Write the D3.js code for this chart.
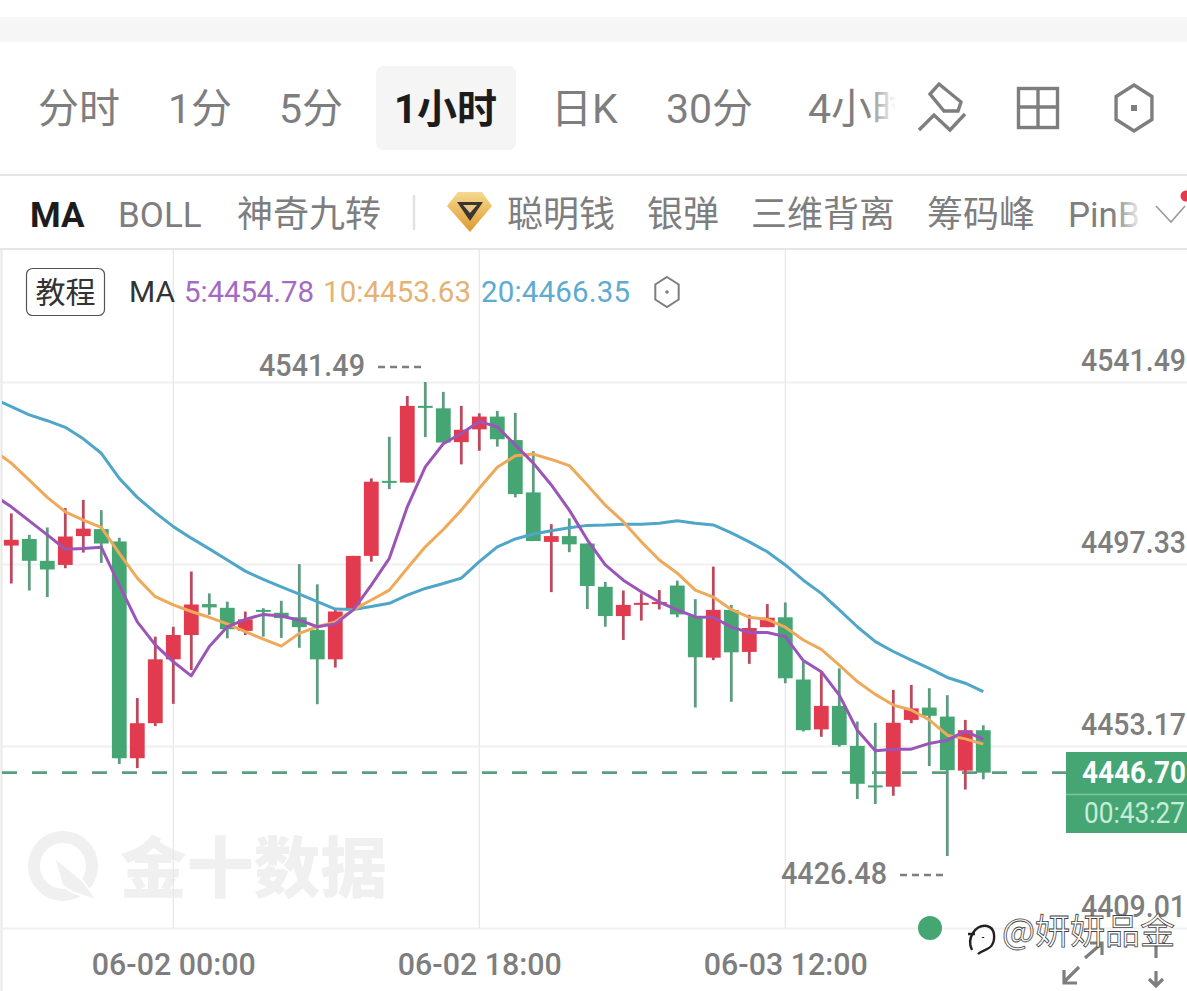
<!DOCTYPE html>
<html><head><meta charset="utf-8">
<style>html,body{margin:0;padding:0;background:#fff;overflow:hidden}svg{display:block}</style>
<script src="https://cdn.jsdelivr.net/npm/d3@7/dist/d3.min.js"></script></head><body>
<svg id="c" width="1187" height="991" font-family="'Noto Sans CJK SC','Noto Sans',sans-serif"></svg>
<script>
const open=[4501.8,4503.4,4498.1,4497.1,4504.1,4505.8,4502.8,4450.2,4458.7,4474.2,
4480.1,4487.6,4486.7,4481.1,4486.2,4485.5,4484.4,4481.3,4474.2,4486.2,
4499.3,4517.5,4517.1,4535.7,4535.1,4526.9,4530.0,4533.1,4527.4,4514.7,
4502.7,4504.1,4502.3,4491.8,4484.7,4487.5,4487.6,4492.1,4484.7,4474.6,
4486.2,4476.0,4482.0,4484.4,4469.3,4457.2,4462.9,4453.2,4443.6,4443.3,
4459.5,4462.5,4460.3,4447.2,4457.0];
const close=[4503.2,4498.1,4496.0,4504.0,4505.9,4502.3,4450.2,4458.7,4474.2,4480.1,
4487.5,4486.8,4481.5,4483.9,4485.9,4484.2,4482.0,4474.2,4485.8,4499.3,
4517.3,4517.1,4535.7,4535.4,4526.8,4529.9,4533.1,4527.6,4514.3,4502.9,
4504.1,4502.1,4492.0,4484.7,4487.4,4487.9,4488.1,4485.1,4474.7,4486.2,
4475.9,4481.8,4484.3,4469.6,4457.0,4462.9,4453.4,4444.0,4443.2,4458.8,
4462.3,4460.5,4447.3,4457.0,4446.70];
const high=[4509.6,4504.4,4506.2,4510.9,4512.9,4510.4,4503.7,4464.8,4479.7,4482.1,
4495.5,4490.2,4488.2,4485.8,4486.6,4488.4,4497.3,4492.4,4486.2,4499.3,
4518.1,4528.2,4538.1,4541.49,4539.1,4535.7,4533.9,4534.5,4534.0,4524.7,
4507.0,4508.4,4502.3,4493.0,4490.9,4490.2,4491.0,4493.3,4488.8,4496.7,
4487.4,4485.0,4487.6,4488.0,4473.6,4471.2,4472.0,4459.1,4458.8,4466.8,
4468.0,4467.2,4465.5,4459.5,4458.2];
const low=[4492.6,4490.9,4489.3,4496.3,4500.1,4497.6,4448.8,4447.8,4458.0,4463.4,
4471.6,4485.0,4479.3,4480.1,4479.7,4479.4,4477.0,4463.3,4472.2,4486.2,
4497.9,4515.5,4517.1,4528.1,4526.8,4521.5,4524.8,4525.8,4513.5,4502.9,
4490.5,4500.2,4486.4,4482.1,4478.9,4483.6,4486.3,4484.4,4462.5,4474.0,
4463.9,4473.1,4482.0,4468.4,4456.7,4455.4,4453.0,4440.3,4439.1,4441.1,
4458.7,4448.3,4426.48,4442.6,4445.1];
// moving averages begin one bar before the first visible candle
const ma5=[4514.1,4511.2,4507.8,4504.4,4500.9,4501.1,4501.4,4492.2,4483.3,4477.7,4473.6,
4470.2,4477.3,4482.1,4483.9,4485.1,4484.7,4483.7,4482.1,4482.8,4486.2,
4492.2,4498.7,4511.2,4520.9,4526.5,4529.0,4531.9,4530.6,4526.2,4521.8,
4516.5,4510.4,4503.2,4497.1,4493.4,4490.6,4488.1,4486.2,4484.5,4484.4,
4482.0,4480.7,4480.7,4479.7,4473.9,4471.2,4465.5,4457.0,4452.0,4452.4,
4452.4,4453.8,4454.6,4456.8,4454.78];
const ma10=[4525.0,4521.8,4517.7,4513.5,4510.0,4508.0,4506.2,4499.9,4493.9,4489.4,4487.4,
4485.8,4484.4,4482.8,4480.9,4479.1,4477.4,4480.5,4482.1,4483.3,4486.2,
4488.6,4491.0,4496.3,4501.5,4505.7,4510.4,4515.7,4520.8,4523.6,4524.0,
4522.7,4521.2,4516.5,4511.6,4507.6,4502.7,4498.3,4495.1,4491.0,4489.3,
4486.3,4484.4,4483.9,4482.0,4478.9,4476.6,4472.8,4468.8,4465.7,4463.1,
4461.9,4459.5,4455.8,4454.9,4453.63];
const ma20=[4537.5,4535.5,4533.5,4532.1,4530.5,4527.7,4524.2,4518.1,4513.5,4509.8,4506.4,
4503.6,4501.0,4498.3,4495.6,4493.6,4491.8,4490.0,4488.2,4486.4,4486.3,
4487.0,4487.8,4489.8,4491.4,4492.6,4493.9,4497.9,4501.5,4503.4,4504.6,
4505.4,4506.1,4506.7,4506.8,4507.0,4507.0,4507.2,4507.8,4507.2,4506.8,
4504.9,4502.7,4500.3,4497.1,4493.4,4490.2,4486.2,4482.1,4478.5,4476.1,
4474.0,4472.0,4469.8,4468.4,4466.35];
const priceTicks=[4541.49,4497.33,4453.17,4409.01];
const timeTickIndex=[9,26,43];
const timeTickLabels=["06-02 00:00","06-02 18:00","06-03 12:00"];
const tabs=["分时","1分","5分","1小时","日K","30分","4小时"];
const indicators=["MA","BOLL","神奇九转","聪明钱","银弹","三维背离","筹码峰","PinB"];
const maLegend=["5:4454.78","10:4453.63","20:4466.35"];
const lastPrice=4446.70, countdown="00:43:27", maxLabel=4541.49, minLabel=4426.48;

const UP="#e23a4e",DOWN="#45a673",UPW="#bb4a5f",DOWNW="#5e9c80",GREY="#7e7e7e";
const NUM="Roboto";
const svg=d3.select("#c");
const defs=svg.append("defs");
const fade=defs.append("linearGradient").attr("id","fade");
fade.append("stop").attr("offset",0).attr("stop-color","#fff").attr("stop-opacity",0);
fade.append("stop").attr("offset",1).attr("stop-color","#fff").attr("stop-opacity",1);
const gold=defs.append("linearGradient").attr("id","gold").attr("x1",0).attr("x2",0).attr("y1",0).attr("y2",1);
gold.append("stop").attr("offset",0).attr("stop-color","#f5d98f");
gold.append("stop").attr("offset",1).attr("stop-color","#dc9a2e");
defs.append("clipPath").attr("id","plot").append("rect").attr("x",2).attr("y",249).attr("width",1064).attr("height",680);

const x=d3.scaleLinear().domain([0,54]).range([11.3,983.3]);
const y=d3.scaleLinear().domain([4541.49,4409.01]).range([382,928]);

// page chrome
svg.append("rect").attr("x",0).attr("y",17).attr("width",1187).attr("height",25).attr("fill","#f6f6f6");
svg.append("rect").attr("x",376).attr("y",66).attr("width",140).attr("height",84).attr("rx",7).attr("fill","#f5f5f5");
[175,249].forEach(v=>svg.append("line").attr("x1",0).attr("x2",1187).attr("y1",v).attr("y2",v).attr("stroke","#e6e6e6").attr("stroke-width",2));
svg.append("line").attr("x1",1.5).attr("x2",1.5).attr("y1",249).attr("y2",991).attr("stroke","#e8e8e8").attr("stroke-width",2);

const tabX=[38,168,279,394,551,666,808];
svg.selectAll(".tab").data(tabs).join("text").attr("class","tab")
 .attr("x",(d,i)=>tabX[i]).attr("y",123).attr("font-size",d=>d==="1小时"?40:41)
 .attr("font-family",(d,i)=>i===0?null:"Roboto,'Noto Sans CJK SC'")
 .attr("font-weight",d=>d==="1小时"?700:400).attr("fill",d=>d==="1小时"?"#1c1c1c":GREY).text(d=>d);
svg.append("rect").attr("x",866).attr("y",80).attr("width",30).attr("height",56).attr("fill","url(#fade)");
svg.append("rect").attr("x",896).attr("y",80).attr("width",20).attr("height",56).attr("fill","#fff");

const indX=[30,118,237,507,647,751,927,1068];
svg.selectAll(".ind").data(indicators).join("text").attr("class","ind")
 .attr("x",(d,i)=>indX[i]).attr("y",227).attr("font-size",(d,i)=>i<2||i===7?35:36)
 .attr("font-family",(d,i)=>i<2||i===7?"Roboto":null)
 .attr("font-weight",d=>d==="MA"?700:400).attr("fill",d=>d==="MA"?"#1c1c1c":GREY).text(d=>d);
svg.append("rect").attr("x",1112).attr("y",190).attr("width",32).attr("height",50).attr("fill","url(#fade)");
svg.append("line").attr("x1",414).attr("x2",414).attr("y1",195).attr("y2",230).attr("stroke","#e2e2e2").attr("stroke-width",2.5);
svg.append("path").attr("d","M458 192H482L492 206L470 232L447 206Z").attr("fill","url(#gold)");
svg.append("path").attr("d","M457 202H483L470 221Z").attr("fill","#3a3530");
svg.append("path").attr("d","M463 205H477L470 213Z").attr("fill","#e8c887");
svg.append("path").attr("d","M1156 206L1171 222L1185 206").attr("fill","none").attr("stroke","#999").attr("stroke-width",1.6);
svg.append("circle").attr("cx",1186).attr("cy",196).attr("r",5.5).attr("fill",UP);

// toolbar icons
const ic=svg.append("g").attr("fill","none").attr("stroke",GREY).attr("stroke-width",3.4);
ic.append("path").attr("d","M939 84L961 102L958 111L944 111L930 94Z");
ic.append("path").attr("d","M919 130L934 115L950 130L965 114");
ic.append("rect").attr("x",1018.5).attr("y",88.5).attr("width",39).attr("height",39);
ic.append("path").attr("d","M1038 88V128M1018 107H1058");
const hex=(cx,cy,r)=>{const p=d3.range(6).map(k=>{const a=Math.PI/3*k-Math.PI/2;return [cx+r*0.9*Math.cos(a),cy+r*Math.sin(a)];});return "M"+p.join("L")+"Z";};
ic.append("path").attr("d",hex(1134,108,23));
svg.append("rect").attr("x",1131).attr("y",105).attr("width",6).attr("height",6).attr("fill",GREY);
svg.append("path").attr("d",hex(667,292,15)).attr("fill","none").attr("stroke",GREY).attr("stroke-width",2);
svg.append("circle").attr("cx",667).attr("cy",292).attr("r",1.8).attr("fill",GREY);

// watermark
svg.append("text").attr("x",120).attr("y",892).attr("font-size",66).attr("font-weight",900).attr("fill","#f0f0f0")
 .attr("textLength",267).attr("lengthAdjust","spacingAndGlyphs").text("金十数据");
svg.append("circle").attr("cx",63).attr("cy",866).attr("r",29).attr("fill","none").attr("stroke","#f0f0f0").attr("stroke-width",12);
svg.append("path").attr("d","M54 857L82 880L98 901L72 892L62 885Z").attr("fill","#f0f0f0").attr("stroke","#fff").attr("stroke-width",2);

// grid and axes
const yAxis=d3.axisRight(y).tickValues(priceTicks).tickSize(1187).tickFormat(d3.format(".2f"));
const ga=svg.append("g").call(yAxis);
ga.select(".domain").remove();
ga.selectAll("line").attr("stroke","#f0f0f0").attr("stroke-width",2);
ga.selectAll("text").attr("x",1081).attr("y",-22).attr("dy","0.35em").attr("text-anchor","start")
 .attr("font-family",NUM).attr("font-size",31).attr("font-weight",500).attr("fill",GREY)
 .attr("textLength",105).attr("lengthAdjust","spacingAndGlyphs");
const xAxis=d3.axisBottom(x).tickValues(timeTickIndex).tickSize(0).tickFormat((d,i)=>timeTickLabels[i]);
const gx=svg.append("g").attr("transform","translate(0,928)").call(xAxis);
gx.select(".domain").remove();
gx.selectAll("text").attr("y",36).attr("dy","0.35em").attr("font-family",NUM).attr("font-size",31).attr("font-weight",500)
 .attr("fill",GREY).attr("textLength",164).attr("lengthAdjust","spacingAndGlyphs");
svg.append("g").selectAll("line").data(timeTickIndex).join("line")
 .attr("x1",d=>x(d)).attr("x2",d=>x(d)).attr("y1",249).attr("y2",928).attr("stroke","#e6e6e6").attr("stroke-width",1.2);

// legend
svg.append("rect").attr("x",26.5).attr("y",268.5).attr("width",78).attr("height",47).attr("rx",6).attr("fill","#fff").attr("stroke","#555").attr("stroke-width",1.2);
svg.append("text").attr("x",65.5).attr("y",303).attr("text-anchor","middle").attr("font-size",30).attr("fill","#333").text("教程");
svg.append("text").attr("x",129).attr("y",302).attr("font-family","Roboto").attr("font-size",30).attr("fill","#333").text("MA");
const legX=[184,323,481],legC=["#a36cc2","#e3b275","#5dabce"],legW=[130,148,149];
svg.selectAll(".leg").data(maLegend).join("text").attr("class","leg").attr("x",(d,i)=>legX[i]).attr("y",302)
 .attr("font-family","Roboto").attr("font-size",29.5).attr("fill",(d,i)=>legC[i])
 .attr("textLength",(d,i)=>legW[i]).text(d=>d);

// last-price dashed line
svg.append("line").attr("x1",2).attr("x2",1066).attr("y1",y(lastPrice)).attr("y2",y(lastPrice))
 .attr("stroke",DOWNW).attr("stroke-width",2.6).attr("stroke-dasharray","15 15");

// candles
const plot=svg.append("g").attr("clip-path","url(#plot)");
const bars=d3.range(open.length);
plot.selectAll(".w").data(bars).join("line").attr("class","w")
 .attr("x1",x).attr("x2",x).attr("y1",i=>y(high[i])).attr("y2",i=>y(low[i]))
 .attr("stroke",i=>close[i]>=open[i]?UPW:DOWNW).attr("stroke-width",2.8);
plot.selectAll(".b").data(bars).join("rect").attr("class","b")
 .attr("x",i=>x(i)-7.4).attr("width",14.8)
 .attr("y",i=>y(Math.max(open[i],close[i])))
 .attr("height",i=>Math.max(2,Math.abs(y(open[i])-y(close[i]))))
 .attr("fill",i=>close[i]>=open[i]?UP:DOWN);

// moving averages
const line=d3.line().x((d,i)=>x(i-1)).y(d=>y(d));
[[ma20,"#4fa6c8"],[ma10,"#eeaa5a"],[ma5,"#9b55b8"]].forEach(([s,c])=>{
 plot.append("path").attr("d",line(s)).attr("fill","none").attr("stroke",c).attr("stroke-width",3).attr("stroke-linejoin","round");
});

// extreme labels
const ext=(v,tx,ty,d0)=>{
 svg.append("text").attr("x",tx).attr("y",ty).attr("dy","0.35em").attr("font-family",NUM).attr("font-size",31).attr("font-weight",500)
  .attr("fill",GREY).attr("textLength",106).attr("lengthAdjust","spacingAndGlyphs").text(d3.format(".2f")(v));
 svg.append("line").attr("x1",d0).attr("x2",d0+43).attr("y1",ty+2).attr("y2",ty+2).attr("stroke",GREY).attr("stroke-width",2.6).attr("stroke-dasharray","7 5");
};
ext(maxLabel,259,365,378);
ext(minLabel,781,873,900);

// price tag
svg.append("rect").attr("x",1066).attr("y",752).attr("width",121).attr("height",81).attr("fill",DOWN);
svg.append("line").attr("x1",1066).attr("x2",1187).attr("y1",794.5).attr("y2",794.5).attr("stroke","#7fc49f").attr("stroke-width",1.5);
svg.append("text").attr("x",1082).attr("y",772).attr("dy","0.35em").attr("font-family",NUM).attr("font-size",31).attr("font-weight",700)
 .attr("fill","#fff").attr("textLength",104).attr("lengthAdjust","spacingAndGlyphs").text(d3.format(".2f")(lastPrice));
svg.append("text").attr("x",1084).attr("y",813).attr("dy","0.35em").attr("font-family",NUM).attr("font-size",29).attr("font-weight",400)
 .attr("fill","#c9ecd9").attr("textLength",101).attr("lengthAdjust","spacingAndGlyphs").text(countdown);

// bottom-right icons and overlay handle
svg.append("circle").attr("cx",930).attr("cy",928).attr("r",12).attr("fill",DOWN);
const ar=svg.append("g").attr("fill","none").attr("stroke",GREY).attr("stroke-width",3.2);
ar.append("path").attr("d","M1085 958L1101 944M1090 943H1102V955");
ar.append("path").attr("d","M1079 967L1064 982M1064 970V983H1077");
ar.append("path").attr("d","M1156 944V958M1156 971V986M1149 979L1156 986L1163 979");
svg.append("path").attr("d","M972 950C966 938 976 924 987 926C996 928 995 940 992 945C989 950 982 950 978 954M975 934H968M983 937V938")
 .attr("fill","none").attr("stroke","#222").attr("stroke-width",2.4);
svg.append("text").attr("x",1002).attr("y",944).attr("font-size",35).attr("fill","#fff").attr("stroke","#444").attr("stroke-width",0.8)
 .attr("textLength",173).text("@妍妍品金");
</script></body></html>
